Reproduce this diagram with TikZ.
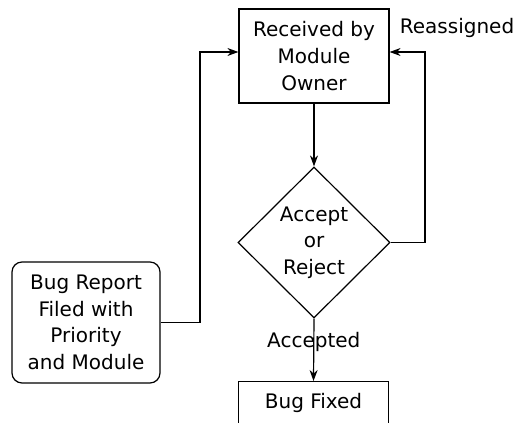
\documentclass[tikz,border=0pt]{standalone}
\usepackage{fontspec}
\setmainfont{DejaVu Sans}
\usepackage{tikz}
\usetikzlibrary{arrows.meta,shapes.geometric}
\tikzset{every node/.append style={font=\fontsize{20}{26.7}\selectfont,align=center}}

\begin{document}
\begin{tikzpicture}[>={Stealth[length=11pt,width=8pt]},x=1pt,y=1pt,line width=1.2pt,
  stepbox/.style={draw,rectangle,inner sep=0pt,minimum width=150pt},
  choice/.style={draw,diamond,inner sep=0pt,minimum width=152pt,minimum height=151pt}]
\useasboundingbox (0,0) rectangle (525,423);
\clip (0,0) rectangle (525,423);
\node[stepbox,minimum height=94pt] (recv) at (314,367) {Received by\\Module\\Owner};
\node[choice] (dec) at (314,180.5) {Accept\\or\\Reject};
\node[stepbox,rounded corners=10pt,minimum width=148pt,minimum height=121pt] (report) at (86,100.5)
  {Bug Report\\Filed with\\Priority\\and Module};
\node[stepbox,anchor=north,text height=15pt,text depth=21pt,inner ysep=12pt] (fixed) at (313.5,42) {Bug Fixed};
\node (reasg) at (457,395) {Reassigned};
\coordinate (rturn) at (425,371);
\coordinate (lturn) at (200,371);
\draw[->] (recv.south) -- (dec.north);
\draw[->] (dec.east) -| (rturn) -- ([yshift=4pt]recv.east);
\draw[->] (report.east) -| (lturn) -- ([yshift=4pt]recv.west);
\draw[->] (dec.south) -- node[pos=.38] (acc) {Accepted} (fixed.north);
\end{tikzpicture}
\end{document}
